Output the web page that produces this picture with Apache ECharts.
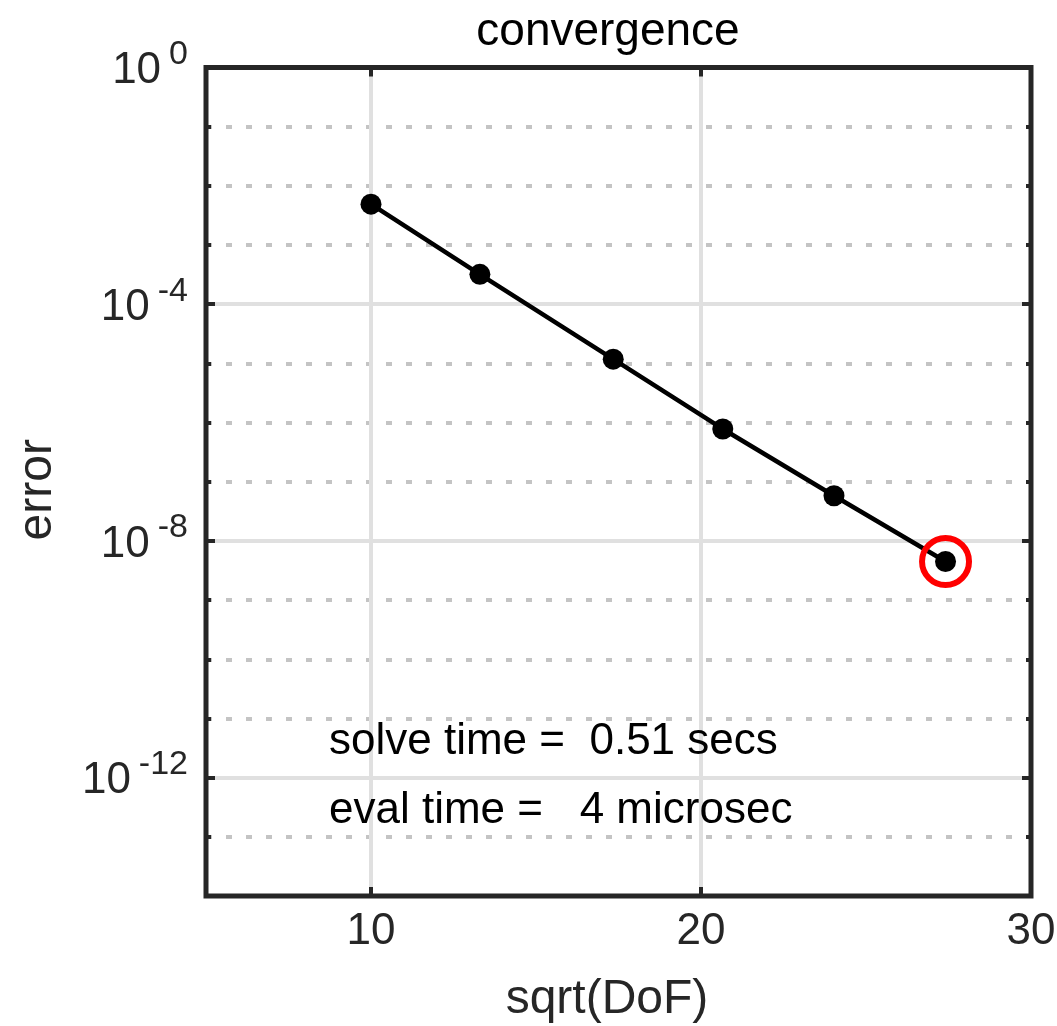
<!DOCTYPE html>
<html>
<head>
<meta charset="utf-8">
<style>
  html, body { margin: 0; padding: 0; background: #fff; }
  #chart { width: 1057px; height: 1026px; }
</style>
<script src="https://cdn.jsdelivr.net/npm/echarts@6/dist/echarts.min.js"></script>
</head>
<body>
<div id="chart"></div>
<script>
// ---- data ----
const sqrtDoF = [10, 13.3, 17.34, 20.66, 24.03, 27.41];
const errors  = [4.9e-3, 3.2e-4, 1.18e-5, 7.8e-7, 5.8e-8, 4.5e-9];
const highlightIndex = 5;
const xTicks = [10, 20, 30];
const yMajorExponents = [-12, -8, -4, 0];
const titleText = 'convergence';
const xLabel = 'sqrt(DoF)';
const yLabel = 'error';
const notes = ['solve time =  0.51 secs', 'eval time =   4 microsec'];

// ---- layout ----
const FONT = '"Liberation Sans", Arial, Helvetica, sans-serif';
const INK = '#262626';
const L = 206, R = 1031, T = 67.5, B = 896;
const W = 1057, H = 1026;
const xMin = 5, xMax = 30, yMinExp = -14, yMaxExp = 0;
const decadePx = (B - T) / (yMaxExp - yMinExp);
const xPx = (R - L) / (xMax - xMin);
const x10px = L + (xTicks[0] - xMin) * xPx;
const y12px = T + (yMaxExp - yMajorExponents[0]) * decadePx;

const lineData = sqrtDoF.map((x, i) => [x, errors[i]]);

// dotted minor grid colours: one per decade (-14..0); skip majors and borders
const minorColors = [];
for (let e = yMinExp; e <= yMaxExp; e++) {
  const isMajor = yMajorExponents.indexOf(e) >= 0;
  minorColors.push(isMajor || e === yMinExp || e === yMaxExp ? 'rgba(0,0,0,0)' : '#c4c4c4');
}
const majorColors = yMajorExponents.map(e => e === yMaxExp ? 'rgba(0,0,0,0)' : '#e0e0e0');
const xGridColors = xTicks.map(v => v === xMax ? 'rgba(0,0,0,0)' : '#e0e0e0');

const chart = echarts.init(document.getElementById('chart'), null, { renderer: 'canvas' });

const hiddenAxis = {
  axisLine: { show: false }, axisTick: { show: false },
  axisLabel: { show: false }, splitLine: { show: false }
};

const option = {
  animation: false,
  backgroundColor: '#ffffff',
  title: {
    text: titleText,
    left: 603, top: 4, textAlign: 'center',
    textStyle: { fontFamily: FONT, fontSize: 46, fontWeight: 'normal', color: '#000' }
  },
  grid: [
    { left: L, right: W - R, top: T, bottom: H - B, show: true, borderColor: INK, borderWidth: 5,
      backgroundColor: 'rgba(0,0,0,0)', z: 3, outerBoundsMode: 'none', containLabel: false },
    { left: L, right: W - R, top: T, bottom: H - y12px, show: false, outerBoundsMode: 'none', containLabel: false },
    { left: x10px, right: W - R, top: T, bottom: H - B, show: false, outerBoundsMode: 'none', containLabel: false }
  ],
  xAxis: [
    Object.assign({ type: 'value', gridIndex: 0, min: xMin, max: xMax,
      name: xLabel, nameLocation: 'middle', nameGap: 80,
      nameTextStyle: { fontFamily: FONT, fontSize: 48, color: INK, padding: [0, 23, 0, 0] } }, hiddenAxis),
    Object.assign({ type: 'value', gridIndex: 1, min: xMin, max: xMax }, hiddenAxis),
    {
      type: 'value', gridIndex: 2, position: 'bottom', min: xTicks[0], max: xMax, interval: 10,
      axisLine: { show: false },
      axisTick: { show: true, inside: true, length: 9, lineStyle: { color: INK, width: 4 } },
      axisLabel: { show: true, margin: 14, fontFamily: FONT, fontSize: 44, color: INK },
      splitLine: { show: true, lineStyle: { color: xGridColors, width: 4, type: 'solid' } }
    },
    {
      type: 'value', gridIndex: 2, position: 'top', min: xTicks[0], max: xMax, interval: 10,
      axisLine: { show: false },
      axisTick: { show: true, inside: true, length: 9, lineStyle: { color: INK, width: 4 } },
      axisLabel: { show: false }, splitLine: { show: false }
    }
  ],
  yAxis: [
    {
      type: 'log', logBase: 10, gridIndex: 0, position: 'left',
      min: Math.pow(10, yMinExp), max: Math.pow(10, yMaxExp), interval: 1,
      axisLine: { show: false },
      axisTick: { show: true, inside: true, length: 5, lineStyle: { color: INK, width: 4 } },
      axisLabel: { show: false },
      splitLine: { show: true, lineStyle: { color: minorColors, width: 4, type: [6, 14] } },
      name: yLabel, nameLocation: 'middle', nameGap: 144, nameRotate: 90,
      nameTextStyle: { fontFamily: FONT, fontSize: 48, color: INK, padding: [0, 16, 0, 0] }
    },
    {
      type: 'log', logBase: 10, gridIndex: 0, position: 'right',
      min: Math.pow(10, yMinExp), max: Math.pow(10, yMaxExp), interval: 1,
      axisLine: { show: false },
      axisTick: { show: true, inside: true, length: 5, lineStyle: { color: INK, width: 4 } },
      axisLabel: { show: false }, splitLine: { show: false }
    },
    {
      type: 'log', logBase: 10, gridIndex: 1, position: 'left',
      min: Math.pow(10, yMajorExponents[0]), max: Math.pow(10, yMaxExp), interval: 4,
      axisLine: { show: false },
      axisTick: { show: true, inside: true, length: 9, lineStyle: { color: INK, width: 4 } },
      axisLabel: {
        show: true, margin: 18, color: INK,
        formatter: function (v) {
          const e = Math.round(Math.log10(v));
          return '{b|10}{e|' + e + '}';
        },
        rich: {
          b: { fontFamily: FONT, fontSize: 44, lineHeight: 44, color: INK, padding: [7, 0, 0, 0] },
          e: { fontFamily: FONT, fontSize: 34, lineHeight: 34, color: INK, padding: [0, 0, 26, 8] }
        }
      },
      splitLine: { show: true, lineStyle: { color: majorColors, width: 4, type: 'solid' } }
    },
    {
      type: 'log', logBase: 10, gridIndex: 1, position: 'right',
      min: Math.pow(10, yMajorExponents[0]), max: Math.pow(10, yMaxExp), interval: 4,
      axisLine: { show: false },
      axisTick: { show: true, inside: true, length: 9, lineStyle: { color: INK, width: 4 } },
      axisLabel: { show: false }, splitLine: { show: false }
    },
    Object.assign({ type: 'value', gridIndex: 2 }, hiddenAxis)
  ],
  series: [
    {
      type: 'line', xAxisIndex: 0, yAxisIndex: 0, z: 4,
      data: lineData,
      symbol: 'circle', symbolSize: 21, showSymbol: true,
      lineStyle: { color: '#000', width: 4.5 },
      itemStyle: { color: '#000', opacity: 1 }
    },
    {
      type: 'scatter', xAxisIndex: 0, yAxisIndex: 0, z: 5,
      data: [lineData[highlightIndex]],
      symbol: 'circle', symbolSize: 47,
      itemStyle: { color: 'rgba(0,0,0,0)', borderColor: '#ff0000', borderWidth: 6, opacity: 1 }
    }
  ],
  graphic: notes.map((t, i) => ({
    type: 'text', left: 329, top: 720 + i * 69, z: 10,
    style: { text: t, fontFamily: FONT, fontSize: 44, fill: '#000' }
  }))
};

chart.setOption(option);
</script>
</body>
</html>
